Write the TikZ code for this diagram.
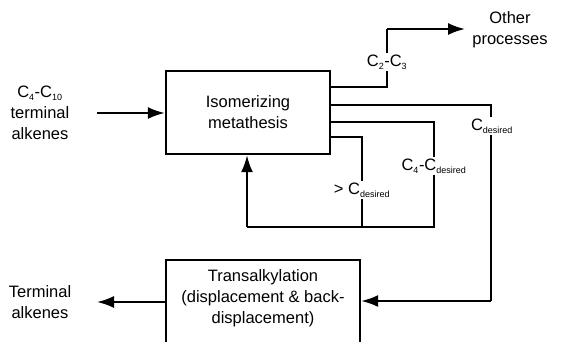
\documentclass[tikz,border=0pt]{standalone}
\usepackage{fontspec}
\setmainfont{Liberation Sans}
\usetikzlibrary{arrows.meta}
\begin{document}
\begin{tikzpicture}[x=1pt,y=-1pt,
  every node/.style={font=\fontsize{16.5}{21}\selectfont, inner sep=1pt},
  procbox/.style={draw, line width=2.4pt, rectangle},
  flow/.style={line width=2pt},
  arr/.style={flow, -{Latex[length=17pt,width=12pt]}},
  tag/.style={fill=white, inner sep=2pt, align=center}]
\useasboundingbox (0,0) rectangle (565,341);
\newcommand{\sbs}[1]{\textsubscript{\fontsize{9}{9}\selectfont #1}}

% main reactor
\node[procbox, minimum width=164pt, minimum height=83pt, align=center] (iso) at (248,112.5)
  {Isomerizing\\metathesis};

% transalkylation unit (runs past the lower edge)
\node[procbox, minimum width=194pt, minimum height=110pt, anchor=north] (trans) at (263,259) {};
\node[align=center] (transtext) at (263,298)
  {Transalkylation\\(displacement \& back-\\displacement)};

% feed
\node[align=center] (feed) at (40,113) {C\sbs{4}-C\sbs{10}\\terminal\\alkenes};
\coordinate (feedend) at (97,113);
\draw[arr] (feedend) -- (iso.west |- feedend);

% light olefins to other processes
\node[align=center] (other) at (510,30) {Other\\processes};
\coordinate (c23a) at (330,87);
\coordinate (c23b) at (387,87);
\coordinate (c23c) at (387,29);
\coordinate (c23d) at (465,29);
\draw[flow] (c23a) -- (c23b) -- (c23c);
\draw[arr] (c23c) -- (c23d);
\node[tag] (c23) at (387,62) {C\sbs{2}-C\sbs{3}};

% desired cut to transalkylation
\coordinate (da) at (330,105);
\coordinate (db) at (491,105);
\coordinate (dc) at (491,301);
\draw[flow] (da) -- (db) -- (dc);
\draw[arr] (dc) -- (trans.east |- dc);
\node[tag] (cdes) at (492,126) {C\sbs{desired}};

% recycle of C4 - Cdesired
\coordinate (ra) at (330,122);
\coordinate (rb) at (434,122);
\coordinate (rc) at (434,227);
\coordinate (rd) at (247,227);
\draw[flow] (ra) -- (rb) -- (rc) -- (rd);
\draw[arr] (rd) -- (iso.south -| rd);
\node[tag] (c4des) at (434,166) {C\sbs{4}-C\sbs{desired}};

% recycle of heavies
\coordinate (ha) at (330,137);
\coordinate (hb) at (362,137);
\coordinate (hc) at (362,227);
\draw[flow] (ha) -- (hb) -- (hc);
\node[tag] (heavy) at (362,190) {> C\sbs{desired}};

% product
\node[align=center] (prod) at (40,302) {Terminal\\alkenes};
\coordinate (prodend) at (97,302);
\draw[arr] (trans.west |- prodend) -- (prodend);
\end{tikzpicture}
\end{document}
